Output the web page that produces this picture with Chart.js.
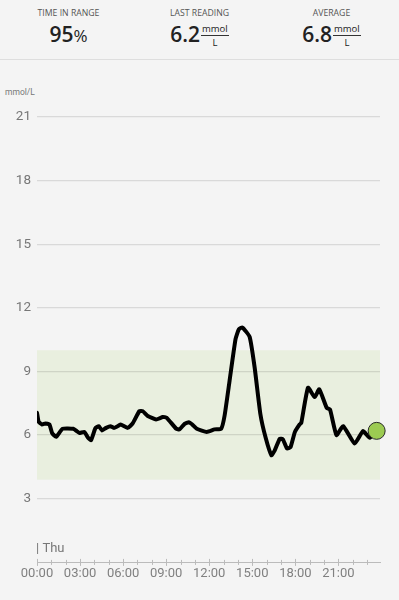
<!DOCTYPE html>
<html>
<head>
<meta charset="utf-8">
<script src="https://cdn.jsdelivr.net/npm/chart.js@4.4.1/dist/chart.umd.min.js"></script>
<style>
  html, body { margin: 0; padding: 0; background: #f4f4f4; width: 399px; height: 600px; overflow: hidden; font-family: Roboto, "Noto Sans", sans-serif; }
  .stats { position: absolute; left: 0; top: 0; width: 399px; height: 59px; border-bottom: 1px solid #dedede; }
  .stat { position: absolute; top: 0; width: 133px; text-align: center; }
  .stat .lbl { margin-top: 7px; font-family: "Open Sans", sans-serif; font-size: 8.7px; color: #555; }
  .stat .val { margin-top: 2px; font-family: "Open Sans", sans-serif; font-size: 21px; font-weight: 600; color: #222; line-height: 26px; }
  .stat .pct { font-weight: 400; font-size: 17px; }
  .frac { display: inline-block; vertical-align: top; margin-left: 1px; font-size: 9.5px; font-weight: 400; line-height: 11px; text-align: center; }
  .frac .num { display: block; border-bottom: 1px solid #333; padding: 0 1px 1px 1px; margin-top: 2px; }
  .frac .den { display: block; padding-top: 1px; }
  .unit { position: absolute; left: 5px; top: 87px; font-size: 8.5px; color: #777; }
  #wrap { position: absolute; left: 0; top: 60px; width: 399px; height: 540px; }
</style>
</head>
<body>
<div class="stats">
  <div class="stat" style="left:2px"><div class="lbl">TIME IN RANGE</div><div class="val">95<span class="pct">%</span></div></div>
  <div class="stat" style="left:133px"><div class="lbl">LAST READING</div><div class="val">6.2<span class="frac"><span class="num">mmol</span><span class="den">L</span></span></div></div>
  <div class="stat" style="left:265px"><div class="lbl">AVERAGE</div><div class="val">6.8<span class="frac"><span class="num">mmol</span><span class="den">L</span></span></div></div>
</div>
<div class="unit">mmol/L</div>
<div id="wrap"><canvas id="glucose"></canvas></div>
<script>
// readings (time of day, mmol/L)
var readingTimes = ['00:00', '00:07', '00:21', '00:35', '00:52', '01:03', '01:20', '01:47', '02:32', '02:46',
  '02:57', '03:18', '03:32', '03:46', '04:04', '04:18', '04:32', '04:49', '05:07', '05:21',
  '05:33', '05:49', '06:19', '06:40', '07:08', '07:22', '07:43', '08:18', '08:46', '09:02',
  '09:42', '09:56', '10:17', '10:35', '10:49', '11:08', '11:50', '12:22', '12:50', '13:04',
  '13:25', '13:50', '14:04', '14:19', '14:49', '15:10', '15:34', '15:56', '16:20', '16:34',
  '16:55', '17:08', '17:25', '17:40', '17:58', '18:18', '18:25', '18:53', '19:21', '19:40',
  '20:11', '20:25', '20:52', '21:20', '22:08', '22:43', '23:11', '23:40'];
var readingValues = [7.05, 6.63, 6.5, 6.55, 6.5, 6.1, 5.92, 6.3, 6.3, 6.19,
  6.1, 6.15, 5.9, 5.76, 6.32, 6.42, 6.22, 6.34, 6.42, 6.34,
  6.39, 6.5, 6.34, 6.55, 7.13, 7.13, 6.9, 6.74, 6.85, 6.82,
  6.3, 6.27, 6.53, 6.61, 6.5, 6.3, 6.15, 6.27, 6.3, 6.9,
  8.55, 10.52, 10.99, 11.07, 10.63, 9.18, 6.98, 5.87, 5.05, 5.28,
  5.83, 5.8, 5.37, 5.43, 6.14, 6.5, 6.58, 8.23, 7.79, 8.16,
  7.29, 7.21, 6.0, 6.42, 5.6, 6.19, 5.87, 6.2];
var yTicks = [3, 6, 9, 12, 15, 18, 21];
var xLabelHours = [0, 3, 6, 9, 12, 15, 18, 21];
var targetRange = [3.9, 10.0];
var dayLabel = '| Thu';

function toHours(t) {
  var p = t.split(':');
  return parseInt(p[0], 10) + parseInt(p[1], 10) / 60;
}
function pad(n) { return (n < 10 ? '0' : '') + n; }

var points = readingTimes.map(function (t, i) {
  return { x: toHours(t), y: readingValues[i] };
});
var lastPoint = points[points.length - 1];

var bandPlugin = {
  id: 'band',
  beforeDraw: function (chart) {
    var ctx = chart.ctx, area = chart.chartArea, y = chart.scales.y;
    var top = y.getPixelForValue(targetRange[1]);
    var bottom = y.getPixelForValue(targetRange[0]);
    ctx.save();
    ctx.fillStyle = '#e9efdf';
    ctx.fillRect(area.left, top, area.right - area.left, bottom - top);
    ctx.restore();
  },
  afterDraw: function (chart) {
    var ctx = chart.ctx, x = chart.scales.x, area = chart.chartArea;
    ctx.save();
    ctx.strokeStyle = '#bbbbbb';
    ctx.lineWidth = 1;
    for (var h = 0; h < 24; h++) {
      var px = Math.round(x.getPixelForValue(h)) + 0.5;
      var len = (h % 3 === 0) ? 3.5 : 2.5;
      ctx.beginPath();
      ctx.moveTo(px, area.bottom - len);
      ctx.lineTo(px, area.bottom + len);
      ctx.stroke();
    }
    ctx.fillStyle = '#777';
    ctx.font = '13px Roboto';
    ctx.textBaseline = 'bottom';
    ctx.fillText(dayLabel, x.getPixelForValue(0) - 1, area.bottom - 7);
    ctx.restore();
  }
};

new Chart(document.getElementById('glucose'), {
  type: 'line',
  data: {
    datasets: [{
      data: points,
      order: 2,
      borderColor: '#000',
      borderWidth: 4,
      tension: 0.15,
      borderJoinStyle: 'round',
      borderCapStyle: 'round',
      pointRadius: 0
    }, {
      data: [lastPoint],
      order: 1,
      clip: false,
      pointRadius: 8.5,
      pointBackgroundColor: '#9ccb52',
      pointBorderColor: '#2a2a2a',
      pointBorderWidth: 1,
      showLine: false
    }]
  },
  options: {
    responsive: true,
    maintainAspectRatio: false,
    animation: false,
    layout: { padding: { top: 25, right: 19, bottom: 22, left: 0 } },
    plugins: { legend: { display: false }, tooltip: { enabled: false } },
    scales: {
      x: {
        type: 'linear',
        min: 0,
        max: 23.9,
        afterBuildTicks: function (scale) {
          scale.ticks = xLabelHours.map(function (h) { return { value: h }; });
        },
        ticks: {
          autoSkip: false,
          maxRotation: 0,
          color: '#808080',
          font: { family: 'Roboto', size: 13 },
          padding: -4,
          callback: function (v) { return pad(v) + ':00'; }
        },
        grid: { display: false },
        border: { display: true, color: '#bbbbbb', width: 1 }
      },
      y: {
        min: 0,
        max: 22.5,
        afterBuildTicks: function (scale) {
          scale.ticks = yTicks.map(function (v) { return { value: v }; });
        },
        afterFit: function (scale) { scale.width = 37; },
        ticks: {
          color: '#777',
          font: { family: 'Roboto', size: 13.5 },
          padding: 6
        },
        grid: { color: 'rgba(0,0,0,0.11)', lineWidth: 1.2, drawTicks: false },
        border: { display: false }
      }
    }
  },
  plugins: [bandPlugin]
});
</script>
</body>
</html>
